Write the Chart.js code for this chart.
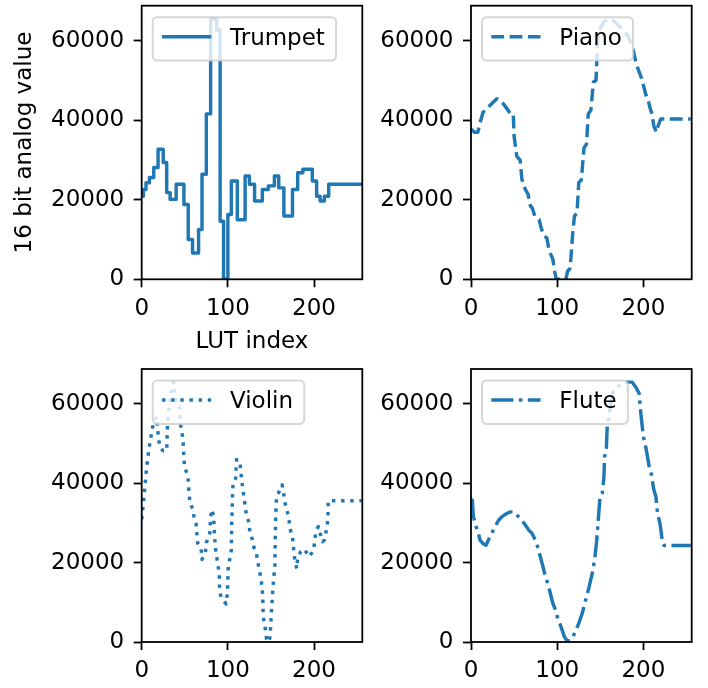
<!DOCTYPE html>
<html>
<head>
<meta charset="utf-8">
<title>Instrument LUTs</title>
<script src="https://cdn.jsdelivr.net/npm/chart.js@4.4.1/dist/chart.umd.min.js"></script>
<style>
  html, body { margin: 0; padding: 0; background: #fff; }
  #fig { position: relative; width: 708px; height: 688px; overflow: hidden; }
  #fig canvas { position: absolute; }
</style>
</head>
<body>
<div id="fig"></div>
<script>
// ---- data ----
const xTicks = [0, 100, 200];
const yTicks = [0, 20000, 40000, 60000];
const lutMax = 256;
const valueMax = 68812;

// trumpet is a staircase: index where each level starts, and the level
const trumpetIdx = [0, 2, 5, 9, 14, 19, 25, 29, 33, 40, 49, 54, 59, 66, 70, 75, 80, 87, 91, 95,
  100, 104, 111, 120, 125, 131, 140, 147, 154, 159, 165, 175, 181, 187, 198, 203, 207, 212, 217, 255];
const trumpetVal = [20900, 22600, 24300, 25600, 28100, 32700, 29400, 21800, 20100, 23900, 18800, 10000, 6600, 12500, 26400, 41600, 65500, 62700, 14600, 0,
  16300, 24700, 15000, 26000, 23900, 19700, 22600, 23500, 26000, 23000, 15900, 22600, 26800, 27700, 24700, 20900, 19700, 20900, 23900, 23900];

const pianoIdx = [0, 4, 8, 10, 14, 20, 26, 30, 34, 38, 42, 46, 49, 50, 53, 57, 59, 63, 66, 69,
  71, 74, 79, 81, 84, 88, 90, 92, 95, 97, 99, 110, 112, 115, 118, 120, 123, 125, 128, 131,
  134, 136, 139, 142, 145, 147, 150, 154, 160, 164, 168, 172, 176, 181, 187, 189, 192, 195, 198, 200,
  203, 206, 208, 210, 212, 215, 217, 220, 255];
const pianoVal = [37800, 37000, 37000, 39000, 42000, 43300, 44600, 45400, 45000, 44000, 42800, 41600, 41600, 36000, 31000, 30000, 25200, 22600, 21500, 18400,
  18000, 15900, 15000, 13300, 11000, 10400, 8000, 6600, 5000, 2000, 0, 0, 2000, 2800, 11600, 15900, 16700, 24300, 25000, 33000,
  34000, 41600, 42500, 49600, 50000, 60600, 63000, 64800, 65500, 65200, 64500, 63700, 62800, 61500, 58900, 56800, 54000, 52200, 50500, 48800,
  46300, 44600, 42900, 41600, 38600, 37000, 38600, 40300, 40300];

const violinIdx = [0, 2, 4, 6, 8.5, 10.5, 13.5, 17.5, 19.5, 22, 25, 29, 30, 31, 33, 35, 37, 40, 44, 45,
  48, 49, 50, 53.5, 55, 56, 59.5, 61, 63, 65, 69, 70, 74, 75, 79, 80, 81.5, 83.5, 84.5, 86,
  88, 90, 90.5, 92, 98, 99.5, 100.5, 102, 104, 104.5, 105.5, 106, 109, 110, 114, 116, 118.5, 121.5, 124.5, 125.5,
  128, 130, 133, 135, 137, 139, 140.5, 141, 143, 145, 147, 149, 150, 151.5, 153, 154.5, 155, 155.5, 156.5, 159.5,
  163, 165, 166.5, 169, 171, 172, 175, 176.5, 178, 180, 181, 184.5, 188.5, 194.5, 199.5, 201, 202, 205, 207, 210,
  212, 214, 216, 216.5, 255];
const violinVal = [30900, 35000, 40000, 44500, 48800, 51500, 55100, 56800, 51000, 48800, 48200, 48200, 55300, 57600, 61000, 64200, 65500, 60000, 59000, 55000,
  50900, 46000, 43800, 42100, 37500, 35100, 33400, 31000, 29900, 24900, 23400, 20800, 22500, 25000, 27400, 31600, 33400, 31600, 27000, 22500,
  20200, 17000, 13100, 11300, 9600, 12500, 19000, 20700, 23200, 30000, 37500, 40000, 41200, 46000, 45400, 40800, 36800, 32000, 30100, 27800,
  26100, 24000, 22500, 19800, 17700, 15000, 11400, 6400, 4000, 700, 0, 1300, 5500, 11000, 15600, 19000, 26000, 32000, 36600, 37900,
  39600, 37000, 34900, 32800, 30700, 28600, 26500, 23000, 20200, 18500, 21100, 22800, 23400, 21500, 23200, 25700, 27800, 29100, 27400, 25300,
  25700, 27800, 30700, 35600, 35600];

const fluteIdx = [0, 1.5, 2.7, 6.6, 8.5, 10.5, 14.4, 17.5, 20.2, 22, 24, 28, 32, 36, 41.5, 45.5, 50, 51.3, 55, 59,
  63, 67, 70.7, 74.6, 77.3, 80.4, 83.5, 86.2, 89, 92, 95, 98, 100.6, 103, 105.7, 108.4, 111.5, 114.6, 117.3, 121,
  125, 129, 133, 137, 140.6, 143.4, 145.7, 147.6, 149.6, 152.3, 154.2, 155, 157, 158, 160, 162, 164, 170, 175.6, 181,
  187, 191, 195, 197, 200, 203, 206.7, 209.4, 211.7, 214.5, 216.4, 219.5, 222.2, 224, 255];
const fluteVal = [35800, 35800, 31600, 28600, 27400, 25700, 24700, 24400, 25700, 26500, 27400, 29100, 30700, 31600, 32400, 32800, 32800, 32400, 31600, 30700,
  29500, 28200, 27400, 25700, 24000, 21500, 19000, 16500, 14800, 12300, 9700, 8100, 6000, 4700, 3000, 1300, 300, 300, 900, 2600,
  4700, 7200, 10600, 13900, 17300, 20700, 25300, 30700, 36600, 37500, 41700, 46700, 48800, 54300, 56800, 60100, 62700, 64300, 65400, 65500,
  65500, 64300, 62700, 57600, 51700, 48800, 44200, 42100, 38700, 36600, 32400, 29500, 24900, 24300, 24300];

// ---- layout / styles ----
const BLUE = '#1f77b4';
const FONT = { family: '"DejaVu Sans", sans-serif', size: 23 };
Chart.defaults.font.family = FONT.family;
Chart.defaults.font.size = FONT.size;
Chart.defaults.color = '#000';
Chart.defaults.animation = false;

const panels = [
  { label: 'Trumpet', idx: trumpetIdx, val: trumpetVal, dash: [], cap: 'square', stepped: true,
    box: [0, 0, 368, 360], area: [141.7, 5.7, 362.3, 279.3], xTitle: 'LUT index', yTitle: '16 bit analog value' },
  { label: 'Piano', idx: pianoIdx, val: pianoVal, dash: [12.8, 5.5], cap: 'butt', stepped: false,
    box: [360, 0, 337, 320], area: [471, 5.7, 691.7, 279.3] },
  { label: 'Violin', idx: violinIdx, val: violinVal, dash: [3.45, 5.7], cap: 'butt', stepped: false,
    box: [0, 362, 368, 326], area: [141.7, 369, 362.3, 642] },
  { label: 'Flute', idx: fluteIdx, val: fluteVal, dash: [22.1, 5.5, 3.45, 5.5], cap: 'butt', stepped: false,
    box: [360, 362, 337, 326], area: [471, 369, 691.7, 642] }
];

// spines on all four sides + matplotlib-style legend inside the axes
const frameAndLegend = {
  id: 'frameAndLegend',
  afterDatasetsDraw(chart) {
    const { ctx, chartArea: a } = chart;
    const ds = chart.data.datasets[0];
    ctx.save();
    ctx.setLineDash([]);
    ctx.strokeStyle = '#000';
    ctx.lineWidth = 1.8;
    ctx.strokeRect(a.left, a.top, a.right - a.left, a.bottom - a.top);

    ctx.font = FONT.size + 'px ' + FONT.family;
    const tw = ctx.measureText(ds.label).width;
    const bx = a.left + 11, by = a.top + 11.5;
    const bw = tw + 88.5, bh = 43.4, r = 4.6;
    ctx.beginPath();
    ctx.moveTo(bx + r, by);
    ctx.arcTo(bx + bw, by, bx + bw, by + bh, r);
    ctx.arcTo(bx + bw, by + bh, bx, by + bh, r);
    ctx.arcTo(bx, by + bh, bx, by, r);
    ctx.arcTo(bx, by, bx + bw, by, r);
    ctx.closePath();
    ctx.fillStyle = 'rgba(255,255,255,0.8)';
    ctx.fill();
    ctx.lineWidth = 2;
    ctx.strokeStyle = 'rgba(204,204,204,0.8)';
    ctx.stroke();

    ctx.beginPath();
    ctx.moveTo(bx + 9.3, by + 19.5);
    ctx.lineTo(bx + 58.5, by + 19.5);
    ctx.strokeStyle = ds.borderColor;
    ctx.lineWidth = ds.borderWidth;
    ctx.lineCap = 'butt';
    ctx.setLineDash(ds.borderDash);
    ctx.stroke();

    ctx.setLineDash([]);
    ctx.fillStyle = '#000';
    ctx.textBaseline = 'alphabetic';
    ctx.textAlign = 'left';
    ctx.fillText(ds.label, bx + 77.3, by + 27.8);
    ctx.restore();
  }
};

const fig = document.getElementById('fig');

panels.forEach(p => {
  const [bl, bt, bw, bh] = p.box;
  const [al, at, ar, ab] = p.area;
  const canvas = document.createElement('canvas');
  canvas.width = bw;
  canvas.height = bh;
  canvas.style.left = bl + 'px';
  canvas.style.top = bt + 'px';
  canvas.style.width = bw + 'px';
  canvas.style.height = bh + 'px';
  fig.appendChild(canvas);

  const yAxisWidth = al - bl;
  const xAxisHeight = bt + bh - ab;

  const tickGrid = {
    drawOnChartArea: false,
    drawTicks: true,
    tickLength: 8,
    tickWidth: 1.8,
    tickColor: '#000',
    color: '#000'
  };

  new Chart(canvas, {
    type: 'line',
    data: {
      datasets: [{
        label: p.label,
        data: p.idx.map((x, i) => ({ x: x, y: p.val[i] })),
        borderColor: BLUE,
        borderWidth: 3.45,
        borderDash: p.dash,
        borderCapStyle: p.cap,
        borderJoinStyle: 'round',
        stepped: p.stepped,
        tension: 0,
        pointRadius: 0,
        pointHoverRadius: 0,
        fill: false,
        clip: 0
      }]
    },
    options: {
      responsive: false,
      devicePixelRatio: 1,
      animation: false,
      events: [],
      layout: { padding: { left: 0, top: at - bt, right: bl + bw - ar, bottom: 0 } },
      plugins: { legend: { display: false }, tooltip: { enabled: false } },
      scales: {
        x: {
          type: 'linear',
          min: 0,
          max: lutMax,
          afterBuildTicks: s => { s.ticks = xTicks.map(v => ({ value: v })); },
          afterFit: s => { s.height = xAxisHeight; s.paddingLeft = 0; s.paddingRight = 0; },
          grid: tickGrid,
          border: { display: false },
          ticks: { padding: 7.5, maxRotation: 0, autoSkip: false, color: '#000', font: FONT, callback: v => String(v) },
          title: { display: !!p.xTitle, text: p.xTitle || '', color: '#000', font: FONT, padding: { top: 0, bottom: 4.2 } }
        },
        y: {
          type: 'linear',
          min: 0,
          max: valueMax,
          afterBuildTicks: s => { s.ticks = yTicks.map(v => ({ value: v })); },
          afterFit: s => { s.width = yAxisWidth; s.paddingTop = 0; s.paddingBottom = 0; },
          grid: tickGrid,
          border: { display: false },
          ticks: { padding: 9.5, autoSkip: false, color: '#000', font: FONT, callback: v => String(v) },
          title: { display: !!p.yTitle, text: p.yTitle || '', color: '#000', font: FONT, padding: { top: 11.2, bottom: 0 } }
        }
      }
    },
    plugins: [frameAndLegend]
  });
});
</script>
</body>
</html>
